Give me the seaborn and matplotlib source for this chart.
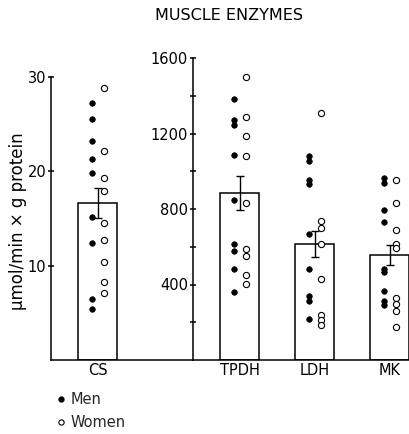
import matplotlib
matplotlib.use("Agg")
import matplotlib.pyplot as plt
from matplotlib.lines import Line2D
from matplotlib.ticker import FixedLocator
import numpy as np
import pandas as pd
import seaborn as sns

# ---------------- data ----------------
left_categories = ["CS"]
left_means = [16.6]
left_sems = [1.6]
cs_men = [27.2, 25.6, 23.2, 21.3, 19.8, 15.2, 12.4, 6.5, 5.4]
cs_women = [28.8, 22.2, 19.3, 17.9, 14.5, 12.7, 10.4, 8.3, 7.1]

right_categories = ["TPDH", "LDH", "MK"]
right_means = [885, 615, 556]
right_sems = [90, 68, 55]
tpdh_men = [1381, 1270, 1245, 1088, 850, 615, 580, 481, 358]
tpdh_women = [1501, 1288, 1186, 1083, 832, 590, 550, 451, 404]
ldh_men = [1080, 1055, 952, 931, 669, 483, 340, 315, 216]
ldh_women = [1310, 735, 699, 614, 430, 239, 212, 186]
mk_men = [963, 938, 796, 729, 481, 464, 363, 315, 292]
mk_women = [952, 832, 690, 616, 593, 327, 297, 257, 173]

left_yticks = [10, 20, 30]
right_yticks = [400, 800, 1200, 1600]
right_minor = [200, 600, 1000, 1400]

title = "MUSCLE ENZYMES"
ylabel = "µmol/min × g protein"
sex_labels = ["Men", "Women"]

# ---------------- style ----------------
sns.set_theme(style="ticks")
plt.rcParams["font.family"] = ["DejaVu Sans"]
LW = 1.1
FS = 10.5

W, H = 410, 434
fig = plt.figure(figsize=(W / 100, H / 100), dpi=100)
fig.patch.set_facecolor("white")

ax1 = fig.add_axes([51 / W, 74 / H, 142 / W, 283 / H])
ax2 = fig.add_axes([193 / W, 74 / H, 217 / W, 302 / H])


def points_frame(cats, men_lists, women_lists):
    rows = []
    for i, (c, m, w) in enumerate(zip(cats, men_lists, women_lists)):
        for v in m:
            rows.append({"enzyme": c, "idx": i, "sex": "Men", "value": v})
        for v in w:
            rows.append({"enzyme": c, "idx": i, "sex": "Women", "value": v})
    return pd.DataFrame(rows)


offset = {"Men": -0.075, "Women": 0.075}


def draw(ax, cats, means, sems, df):
    sns.barplot(x=cats, y=means, ax=ax, width=0.52, color="white",
                edgecolor="black", linewidth=LW, errorbar=None, zorder=2)
    ax.errorbar(np.arange(len(cats)), means, yerr=sems, fmt="none",
                ecolor="black", elinewidth=1.0, capsize=2.8, capthick=1.0,
                zorder=3)
    df = df.copy()
    df["xpos"] = df["idx"] + df["sex"].map(offset)
    men = df[df["sex"] == "Men"]
    women = df[df["sex"] == "Women"]
    sns.scatterplot(data=men, x="xpos", y="value", ax=ax, s=16,
                    color="black", edgecolor="black", linewidth=0.5,
                    zorder=4, legend=False)
    sns.scatterplot(data=women, x="xpos", y="value", ax=ax, s=20,
                    facecolor="white", edgecolor="black", linewidth=0.8,
                    zorder=4, legend=False)
    ax.set_xticks(range(len(cats)))
    ax.set_xticklabels(cats, fontsize=FS)
    ax.set_xlabel("")
    ax.set_ylabel("")
    ax.set_facecolor("none")
    for s in ["top", "right"]:
        ax.spines[s].set_visible(False)
    for s in ["left", "bottom"]:
        ax.spines[s].set_linewidth(LW)
        ax.spines[s].set_color("black")
    ax.tick_params(axis="x", length=0, pad=2.5, colors="black")
    ax.tick_params(axis="y", direction="inout", length=5, width=LW,
                   pad=1, labelsize=FS, colors="black")


draw(ax1, left_categories, left_means, left_sems,
     points_frame(left_categories, [cs_men], [cs_women]))
draw(ax2, right_categories, right_means, right_sems,
     points_frame(right_categories, [tpdh_men, ldh_men, mk_men],
                  [tpdh_women, ldh_women, mk_women]))

ax1.set_xlim(-47 / 75, 95 / 75)
ax1.set_ylim(0, 30)
ax1.set_yticks(left_yticks)

ax2.set_xlim(-47 / 75, 170 / 75)
ax2.set_ylim(0, 1600)
ax2.set_yticks(right_yticks)
ax2.yaxis.set_minor_locator(FixedLocator(right_minor))
ax2.tick_params(axis="y", which="minor", direction="inout", length=5,
                width=LW, colors="black")
ax2.spines["bottom"].set_bounds(-47 / 75, 170 / 75)

ax1.set_ylabel(ylabel, fontsize=12, color="black")
ax1.yaxis.set_label_coords(-0.17, 0.49)

fig.text(229 / W, 1 - 15 / H, title, ha="center", va="center",
         fontsize=11.5, color="black")

handles = [
    Line2D([], [], marker="o", linestyle="", markersize=3.5,
           markerfacecolor="black", markeredgecolor="black"),
    Line2D([], [], marker="o", linestyle="", markersize=3.8,
           markerfacecolor="white", markeredgecolor="black",
           markeredgewidth=0.8),
]
fig.legend(handles, sex_labels, loc="upper left",
           bbox_to_anchor=(57 / W, 1 - 392 / H), frameon=False,
           fontsize=FS, handlelength=0.6, handletextpad=0.35,
           borderpad=0, borderaxespad=0, labelspacing=0.55)

fig.savefig("out.png", dpi=100, facecolor="white")
